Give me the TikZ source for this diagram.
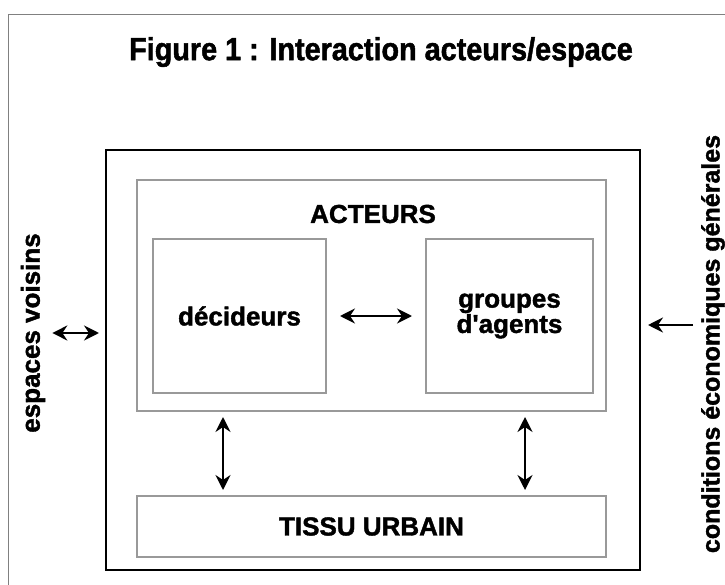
\documentclass[tikz,border=0pt]{standalone}
\usepackage{fontspec}
\setmainfont{Liberation Sans}[BoldFont={Liberation Sans Bold}]
\newfontfamily\titrefont{Liberation Sans Bold}[FakeStretch=0.9, FakeBold=1.5]
\newfontfamily\grasfont{Liberation Sans Bold}[FakeBold=1.5]
\usepackage{tikz}
\usetikzlibrary{
	arrows.meta,
	positioning,
	calc
}

\begin{document}
\begin{tikzpicture}[
			x=1pt, y=-1pt,
			font=\grasfont\fontsize{26}{21}\selectfont,
			cadre/.style={draw, line width=2.4pt, minimum width=534pt, minimum height=420pt, outer sep=0pt},
			boite/.style={draw=black!40, line width=1.1pt, outer sep=0pt, inner sep=0pt, align=center},
			rot/.style={rotate=90, inner sep=0pt},
			>={Stealth[length=15pt, width=15pt, inset=5pt]},
			fl/.style={<->, line width=2.3pt},
			fl1/.style={->, line width=2.3pt}
		]
		\useasboundingbox (0,0) rectangle (725,585);

		% cadre de la page
		\draw[black!50, line width=1pt] (8,585) -- (8,15) -- (725,15);

		\node[font=\titrefont\fontsize{32}{32}\selectfont] (titre) at (381,52) {Figure 1 : Interaction acteurs/espace};

		\node[cadre] (systeme) at (373,360) {};
		\node[boite, minimum width=469pt, minimum height=231pt] (acteurs) at (371.5,295.5) {};
		\node (lacteurs) at (373,214) {ACTEURS};
		\node[boite, minimum width=173pt, minimum height=154pt] (decideurs) at (239.5,316) {décideurs};
		\node[boite, minimum width=167pt, minimum height=154pt] (groupes) at (509.5,316) {groupes\\ d'agents};
		\node[boite, minimum width=469pt, minimum height=61pt] (tissu) at (371.5,526.5) {TISSU URBAIN};

		\node[rot] (voisins) at (33,333) {espaces voisins};
		\node[rot, font=\grasfont\fontsize{25}{21}\selectfont] (conditions) at (713,344) {conditions économiques générales};

		\coordinate (g1) at (223,0);
		\coordinate (g2) at (525,0);
		\coordinate (c0) at (693,325);

		\draw[fl, shorten <=14pt, shorten >=14pt] (decideurs) -- (groupes);
		\draw[fl, shorten <=6pt, shorten >=6pt] (acteurs.south -| g1) -- (tissu.north -| g1);
		\draw[fl, shorten <=6pt, shorten >=6pt] (acteurs.south -| g2) -- (tissu.north -| g2);
		\draw[fl, shorten <=7pt, shorten >=7pt] (voisins.south) -- (voisins.south -| systeme.west);
		\draw[fl1, shorten >=8pt] (c0) -- (c0 -| systeme.east);
	\end{tikzpicture}
\end{document}
